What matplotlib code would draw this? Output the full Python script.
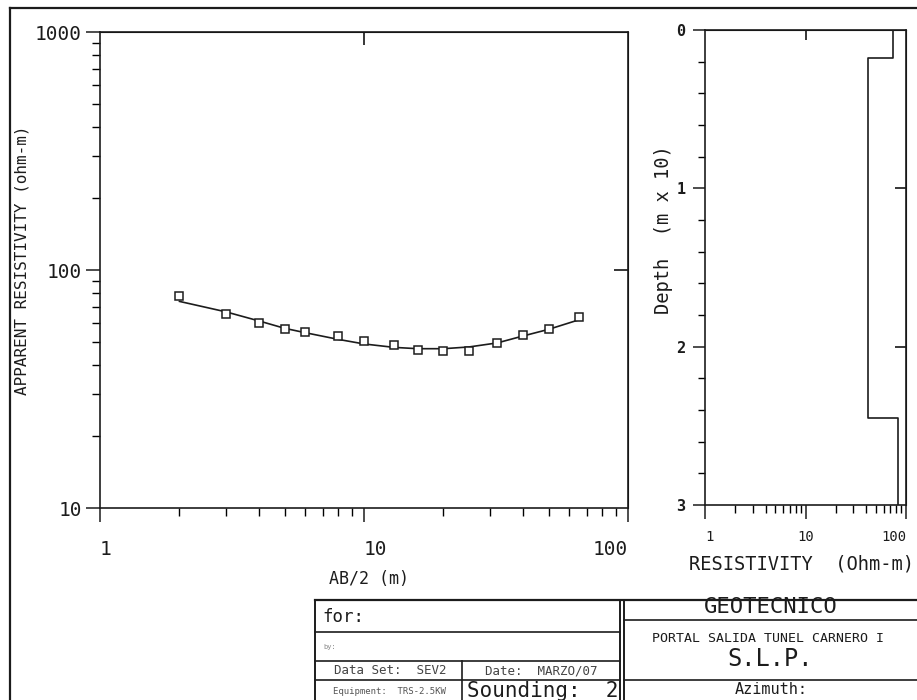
"""
Resistivity sounding plot (SEV2) with layered model and title block.
"""
import numpy as np
import matplotlib
matplotlib.use("Agg")
import matplotlib.pyplot as plt
from matplotlib.lines import Line2D
from matplotlib.ticker import FixedLocator, NullLocator, NullFormatter, LogLocator

FONT = "DejaVu Sans Mono"
INK = "#1c1c1c"

# observed apparent resistivity (AB/2 in m, rho in ohm-m)
ab2_obs = [2, 3, 4, 5, 6, 8, 10, 13, 16, 20, 25, 32, 40, 50, 65]
rho_obs = [77.5, 65.4, 59.6, 56.3, 55.0, 52.8, 50.4, 48.3, 46.2, 45.5, 45.5, 49.5, 53.2, 56.5, 63.7]

# model response curve
ab2_fit = [2, 3, 4, 5, 6, 8, 10, 13, 16, 20, 25, 32, 40, 50, 65]
rho_fit = [73.8, 66.7, 61.1, 56.9, 54.5, 51.1, 48.9, 47.3, 46.7, 46.7, 47.5, 49.4, 52.8, 56.3, 61.7]

# layered model (depth in m x 10)
layer_rho = [75, 42, 84]
layer_top = [0.0, 0.175, 2.45]
max_depth = 3.0

W, H = 917, 700


def fpos(x, y):
    return x / W, 1 - y / H


def line(fig, x0, y0, x1, y1, lw=1.2):
    (a, b), (c, d) = fpos(x0, y0), fpos(x1, y1)
    fig.add_artist(Line2D([a, c], [b, d], transform=fig.transFigure, color=INK, lw=lw))


def text(fig, x, y, s, size, ha="center", **kw):
    a, b = fpos(x, y)
    kw.setdefault("color", INK)
    fig.text(a, b, s, fontsize=size, family=FONT, ha=ha, va="center", **kw)


def style_log_x(ax, labels_ha, pad):
    ax.set_xscale("log")
    ax.xaxis.set_major_locator(FixedLocator([1, 10, 100]))
    ax.xaxis.set_minor_locator(LogLocator(base=10, subs=np.arange(2, 10)))
    ax.xaxis.set_minor_formatter(NullFormatter())
    ax.set_xticklabels(["1", "10", "100"])
    for lab, ha in zip(ax.get_xticklabels(), labels_ha):
        lab.set_ha(ha)
    ax.tick_params(axis="x", which="major", direction="out", length=10, width=1.1, pad=pad)
    ax.tick_params(axis="x", which="minor", direction="out", length=6, width=1.0)


def main():
    plt.rcParams["font.family"] = FONT
    fig = plt.figure(figsize=(W / 100, H / 100), dpi=100)

    # ---------------- main sounding curve ----------------
    ax = fig.add_axes([100 / W, 1 - 508 / H, 528 / W, 476 / H])
    ax.plot(ab2_fit, rho_fit, color=INK, lw=1.2)
    ax.plot(ab2_obs, rho_obs, ls="none", marker="s", ms=6, mfc="white", mec=INK, mew=1.1)
    ax.set_xlim(1, 100)
    ax.set_ylim(10, 1000)
    style_log_x(ax, ["left", "left", "right"], pad=13)
    ax.set_yscale("log")
    ax.yaxis.set_major_locator(FixedLocator([10, 100, 1000]))
    ax.yaxis.set_minor_locator(LogLocator(base=10, subs=np.arange(2, 10)))
    ax.yaxis.set_minor_formatter(NullFormatter())
    ax.set_yticklabels(["10", "100", "1000"])
    ax.tick_params(axis="y", which="major", direction="out", length=10, width=1.1, pad=3)
    ax.tick_params(axis="y", which="minor", direction="out", length=6, width=1.0)
    ax.tick_params(labelsize=14, colors=INK)
    for s in ax.spines.values():
        s.set_linewidth(1.2)
        s.set_color(INK)
    ax.set_ylabel("APPARENT RESISTIVITY (ohm-m)", fontsize=11.5, color=INK)
    ax.yaxis.set_label_coords(-0.133, 0.52)
    ax.set_xlabel("AB/2 (m)", fontsize=12, color=INK)
    ax.xaxis.set_label_coords(0.51, -0.13)

    top = ax.secondary_xaxis("top")
    top.set_xticks([10])
    top.xaxis.set_minor_locator(NullLocator())
    top.tick_params(direction="in", length=9, width=1.1, labeltop=False)
    right = ax.secondary_yaxis("right")
    right.set_yticks([100])
    right.yaxis.set_minor_locator(NullLocator())
    right.tick_params(direction="in", length=10, width=1.1, labelright=False)

    # ---------------- layered model ----------------
    ax2 = fig.add_axes([705 / W, 1 - 505 / H, 201 / W, 475 / H])
    bounds = layer_top + [max_depth]
    xs = np.repeat(layer_rho, 2)
    ys = np.repeat(bounds, 2)[1:-1]
    ax2.plot(xs, ys, color=INK, lw=1.2)
    ax2.set_xlim(1, 100)
    ax2.set_ylim(max_depth, 0)
    style_log_x(ax2, ["left", "center", "right"], pad=8)
    ax2.tick_params(axis="x", labelsize=10, colors=INK)
    ax2.set_yticks([0, 1, 2, 3])
    ax2.set_yticklabels(["0", "1", "2", "3"])
    ax2.yaxis.set_minor_locator(FixedLocator(np.arange(0, 3.01, 0.2)))
    ax2.tick_params(axis="y", which="major", direction="out", length=9, width=1.1, pad=5,
                    labelsize=11, colors=INK)
    ax2.tick_params(axis="y", which="minor", direction="out", length=5, width=1.0)
    for lab in ax2.get_yticklabels():
        lab.set_fontweight("bold")
    for s in ax2.spines.values():
        s.set_linewidth(1.2)
        s.set_color(INK)
    ax2.set_ylabel("Depth  (m x 10)", fontsize=13.5, color=INK)
    ax2.yaxis.set_label_coords(-0.16, 0.58)
    ax2.set_xlabel("RESISTIVITY  (Ohm-m)", fontsize=13.5, color=INK)
    ax2.xaxis.set_label_coords(0.48, -0.105)

    top2 = ax2.secondary_xaxis("top")
    top2.set_xticks([10])
    top2.xaxis.set_minor_locator(NullLocator())
    top2.tick_params(direction="in", length=7, width=1.1, labeltop=False)
    right2 = ax2.secondary_yaxis("right")
    right2.set_yticks([1, 2])
    right2.yaxis.set_minor_locator(NullLocator())
    right2.tick_params(direction="in", length=8, width=1.1, labelright=False)

    # ---------------- sheet frame ----------------
    line(fig, 10, 8, 10, 700, lw=1.6)
    line(fig, 10, 8, 917, 8, lw=1.6)

    # ---------------- title block ----------------
    line(fig, 315, 600, 917, 600, lw=1.6)
    line(fig, 315, 600, 315, 700, lw=1.4)
    line(fig, 620, 600, 620, 700, lw=1.4)
    line(fig, 624, 600, 624, 700, lw=1.4)
    line(fig, 315, 632, 620, 632)
    line(fig, 315, 661, 620, 661)
    line(fig, 315, 680, 620, 680)
    line(fig, 462, 661, 462, 700)
    line(fig, 624, 620, 917, 620)
    line(fig, 624, 680, 917, 680)

    text(fig, 322, 617, "for:", 12.5, ha="left")
    text(fig, 323, 647, "by:", 5, ha="left", color="#888888")
    text(fig, 390, 671, "Data Set:  SEV2", 9, color="#444444")
    text(fig, 541, 671, "Date:  MARZO/07", 9, color="#444444")
    text(fig, 389, 691, "Equipment:  TRS-2.5KW", 6.5, color="#555555")
    text(fig, 543, 691, "Sounding:  2", 15)
    text(fig, 771, 607, "GEOTECNICO", 16)
    text(fig, 768, 638, "PORTAL SALIDA TUNEL CARNERO I", 9.5)
    text(fig, 770, 659, "S.L.P.", 17)
    text(fig, 771, 690, "Azimuth:", 11)

    fig.savefig("out.png", dpi=100)


if __name__ == "__main__":
    main()
